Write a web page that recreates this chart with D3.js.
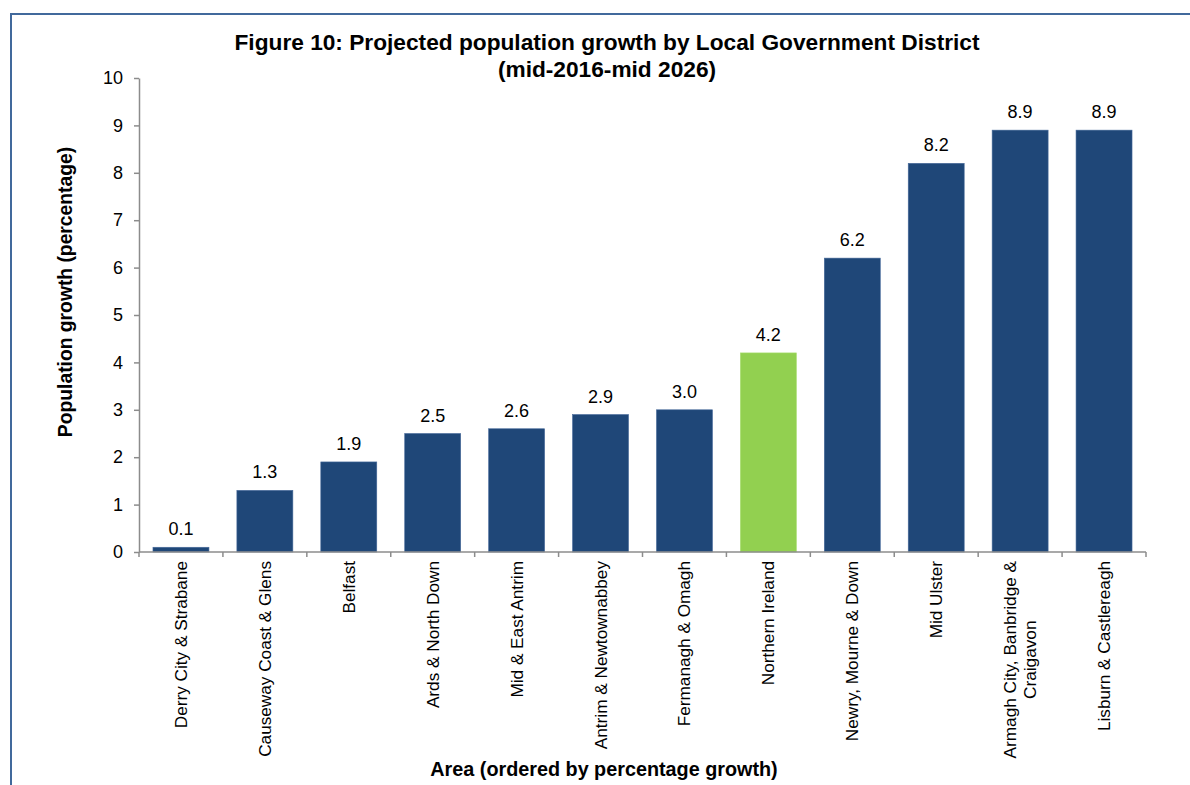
<!DOCTYPE html>
<html>
<head>
<meta charset="utf-8">
<script src="https://cdn.jsdelivr.net/npm/d3@7"></script>
<style>
  html, body { margin: 0; padding: 0; background: #fff; }
  svg { display: block; font-family: "Liberation Sans", Arial, sans-serif; }
</style>
</head>
<body>
<svg id="chart" width="1190" height="785"></svg>
<script>
// Areas, ordered by projected percentage growth (mid-2016 to mid-2026)
const areas = [
  "Derry City & Strabane",
  "Causeway Coast & Glens",
  "Belfast",
  "Ards & North Down",
  "Mid & East Antrim",
  "Antrim & Newtownabbey",
  "Fermanagh & Omagh",
  "Northern Ireland",
  "Newry, Mourne & Down",
  "Mid Ulster",
  "Armagh City, Banbridge & Craigavon",
  "Lisburn & Castlereagh"
];
const growth = [0.1, 1.3, 1.9, 2.5, 2.6, 2.9, 3.0, 4.2, 6.2, 8.2, 8.9, 8.9];
// Category labels split into display lines
const areaLines = [
  ["Derry City & Strabane"],
  ["Causeway Coast & Glens"],
  ["Belfast"],
  ["Ards & North Down"],
  ["Mid & East Antrim"],
  ["Antrim & Newtownabbey"],
  ["Fermanagh & Omagh"],
  ["Northern Ireland"],
  ["Newry, Mourne & Down"],
  ["Mid Ulster"],
  ["Armagh City, Banbridge &", "Craigavon"],
  ["Lisburn & Castlereagh"]
];
const yTicks = [0, 1, 2, 3, 4, 5, 6, 7, 8, 9, 10];
const highlight = "Northern Ireland";

const svg = d3.select("#chart");
const plotLeft = 139, plotRight = 1146, plotTop = 78, plotBottom = 552;

// Outer frame
svg.append("rect")
  .attr("x", 11).attr("y", 14)
  .attr("width", 1250).attr("height", 900)
  .attr("fill", "none")
  .attr("stroke", "#41699c")
  .attr("stroke-width", 2);

const x = d3.scaleBand().domain(areas).range([plotLeft, plotRight]).paddingInner(0.333).paddingOuter(0.1665);
const y = d3.scaleLinear().domain([0, 10]).range([plotBottom, plotTop]);

// Bars
svg.append("g").selectAll("rect")
  .data(areas)
  .join("rect")
  .attr("x", d => x(d))
  .attr("width", x.bandwidth())
  .attr("y", (d, i) => y(growth[i]))
  .attr("height", (d, i) => y(0) - y(growth[i]))
  .attr("fill", d => d === highlight ? "#92d050" : "#1f4778")
  .attr("stroke", d => d === highlight ? "#a6dc6c" : "#46699a")
  .attr("stroke-width", 0.6);

// Value labels
svg.append("g").selectAll("text")
  .data(areas)
  .join("text")
  .attr("x", d => x(d) + x.bandwidth() / 2)
  .attr("y", (d, i) => y(growth[i]) - 12)
  .attr("text-anchor", "middle")
  .attr("font-size", 18)
  .attr("fill", "#000")
  .text((d, i) => growth[i].toFixed(1));

// Y axis
const yAxis = d3.axisLeft(y).tickValues(yTicks).tickSize(5).tickPadding(11).tickSizeOuter(0);
const gy = svg.append("g").attr("transform", `translate(${plotLeft},0)`).call(yAxis);
gy.selectAll("path, line").attr("stroke", "#8c8c8c").attr("stroke-width", 1.5);
gy.selectAll("text").attr("font-size", 18).attr("fill", "#000")
  .attr("font-family", "'Liberation Sans', Arial, sans-serif");

// X axis with tick marks between categories
const gx = svg.append("g").attr("transform", `translate(0,${plotBottom})`);
gx.append("line").attr("x1", plotLeft).attr("x2", plotRight).attr("y1", 0).attr("y2", 0)
  .attr("stroke", "#8c8c8c").attr("stroke-width", 1.5);
const boundaries = d3.range(areas.length + 1).map(i => plotLeft + i * (plotRight - plotLeft) / areas.length);
gx.selectAll("line.tick").data(boundaries).join("line")
  .attr("class", "tick")
  .attr("x1", d => d).attr("x2", d => d)
  .attr("y1", 0).attr("y2", 5)
  .attr("stroke", "#8c8c8c").attr("stroke-width", 1.5);

// Rotated category labels
const lh = 20;
const labels = gx.selectAll("g.lab").data(areas).join("g")
  .attr("class", "lab")
  .attr("transform", d => `translate(${x(d) + x.bandwidth() / 2},9) rotate(-90)`);
labels.each(function(d, i) {
  const lines = areaLines[i];
  const g = d3.select(this);
  const n = lines.length;
  lines.forEach((ln, k) => {
    g.append("text")
      .attr("x", 0)
      .attr("y", (k - (n - 1) / 2) * lh)
      .attr("dy", "0.35em")
      .attr("font-size", 17.2)
      .attr("fill", "#000")
      .text(ln);
  });
  // Centre wrapped lines relative to the widest line, right-aligned at the axis
  const texts = g.selectAll("text").nodes();
  const maxW = d3.max(texts, t => t.getComputedTextLength());
  texts.forEach(t => {
    const w = t.getComputedTextLength();
    d3.select(t).attr("text-anchor", "end").attr("x", -(maxW - w) / 2);
  });
});

// Titles
const title = svg.append("text")
  .attr("x", 607).attr("y", 50)
  .attr("text-anchor", "middle")
  .attr("font-size", 22.7).attr("font-weight", "bold").attr("fill", "#000");
title.append("tspan").attr("x", 607).text("Figure 10: Projected population growth by Local Government District");
title.append("tspan").attr("x", 607).attr("dy", 27).text("(mid-2016-mid 2026)");

svg.append("text")
  .attr("transform", "translate(72,292) rotate(-90)")
  .attr("text-anchor", "middle")
  .attr("font-size", 19.3).attr("font-weight", "bold").attr("fill", "#000")
  .text("Population growth (percentage)");

svg.append("text")
  .attr("x", 604).attr("y", 776)
  .attr("text-anchor", "middle")
  .attr("font-size", 19.8).attr("font-weight", "bold").attr("fill", "#000")
  .text("Area (ordered by percentage growth)");
</script>
</body>
</html>
